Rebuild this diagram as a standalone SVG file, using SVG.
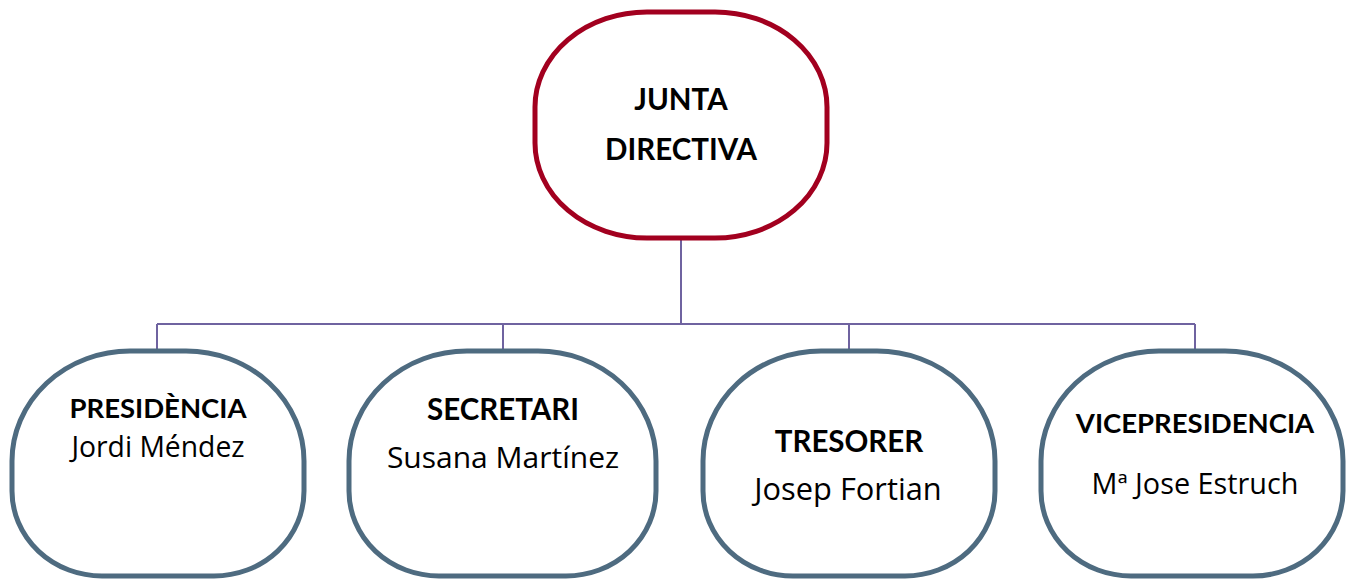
<svg xmlns="http://www.w3.org/2000/svg" width="1348" height="581" viewBox="0 0 1348 581">
<style>
.top{fill:#fff;stroke:#A2001F;stroke-width:5}
.sub{fill:#fff;stroke:#4E6B80;stroke-width:5}
.conn{fill:none;stroke:#6F63A0;stroke-width:2}
text{fill:#000;text-anchor:middle}
.b{font-family:Lato,"Liberation Sans",sans-serif;font-weight:bold;font-size:29.5px}
.bs{font-size:27.5px}
.r{font-family:"Open Sans","Liberation Sans",sans-serif;font-size:30px}
</style>
<rect width="1348" height="581" fill="#fff"/>
<g id="connectors">
<path class="conn" d="M681,239 V324 M157,324 H1195 M157,324 V351 M503,324 V351 M849,324 V351 M1195,324 V351"/>
</g>
<g id="junta">
<rect class="top" x="535" y="12" width="292" height="226" rx="112" ry="95"/>
<text class="b" x="681" y="110">JUNTA</text>
<text class="b" x="681" y="160">DIRECTIVA</text>
</g>
<g id="presidencia">
<path class="sub" d="M130,351 H186 A118 110 0 0 1 304,461 V491 A90 85 0 0 1 214,576 H102 A90 85 0 0 1 12,491 V461 A118 110 0 0 1 130,351 Z"/>
<text class="b bs" x="158" y="418">PRESIDÈNCIA</text>
<text class="r" x="158" y="457" style="font-size:28.3px">Jordi Méndez</text>
</g>
<g id="secretari">
<path class="sub" d="M467,351 H538 A118 110 0 0 1 656,461 V491 A90 85 0 0 1 566,576 H439 A90 85 0 0 1 349,491 V461 A118 110 0 0 1 467,351 Z"/>
<text class="b" x="503" y="420">SECRETARI</text>
<text class="r" x="503" y="468">Susana Martínez</text>
</g>
<g id="tresorer">
<path class="sub" d="M821,351 H877 A118 110 0 0 1 995,461 V491 A90 85 0 0 1 905,576 H793 A90 85 0 0 1 703,491 V461 A118 110 0 0 1 821,351 Z"/>
<text class="b" x="849" y="452">TRESORER</text>
<text class="r" x="848" y="500" style="font-size:30.8px">Josep Fortian</text>
</g>
<g id="vicepresidencia">
<path class="sub" d="M1159,351 H1225 A118 110 0 0 1 1343,461 V491 A90 85 0 0 1 1253,576 H1131 A90 85 0 0 1 1041,491 V461 A118 110 0 0 1 1159,351 Z"/>
<text class="b bs" x="1195" y="433">VICEPRESIDENCIA</text>
<text class="r" x="1195" y="494" style="font-size:28.8px">Mª Jose Estruch</text>
</g>
</svg>
